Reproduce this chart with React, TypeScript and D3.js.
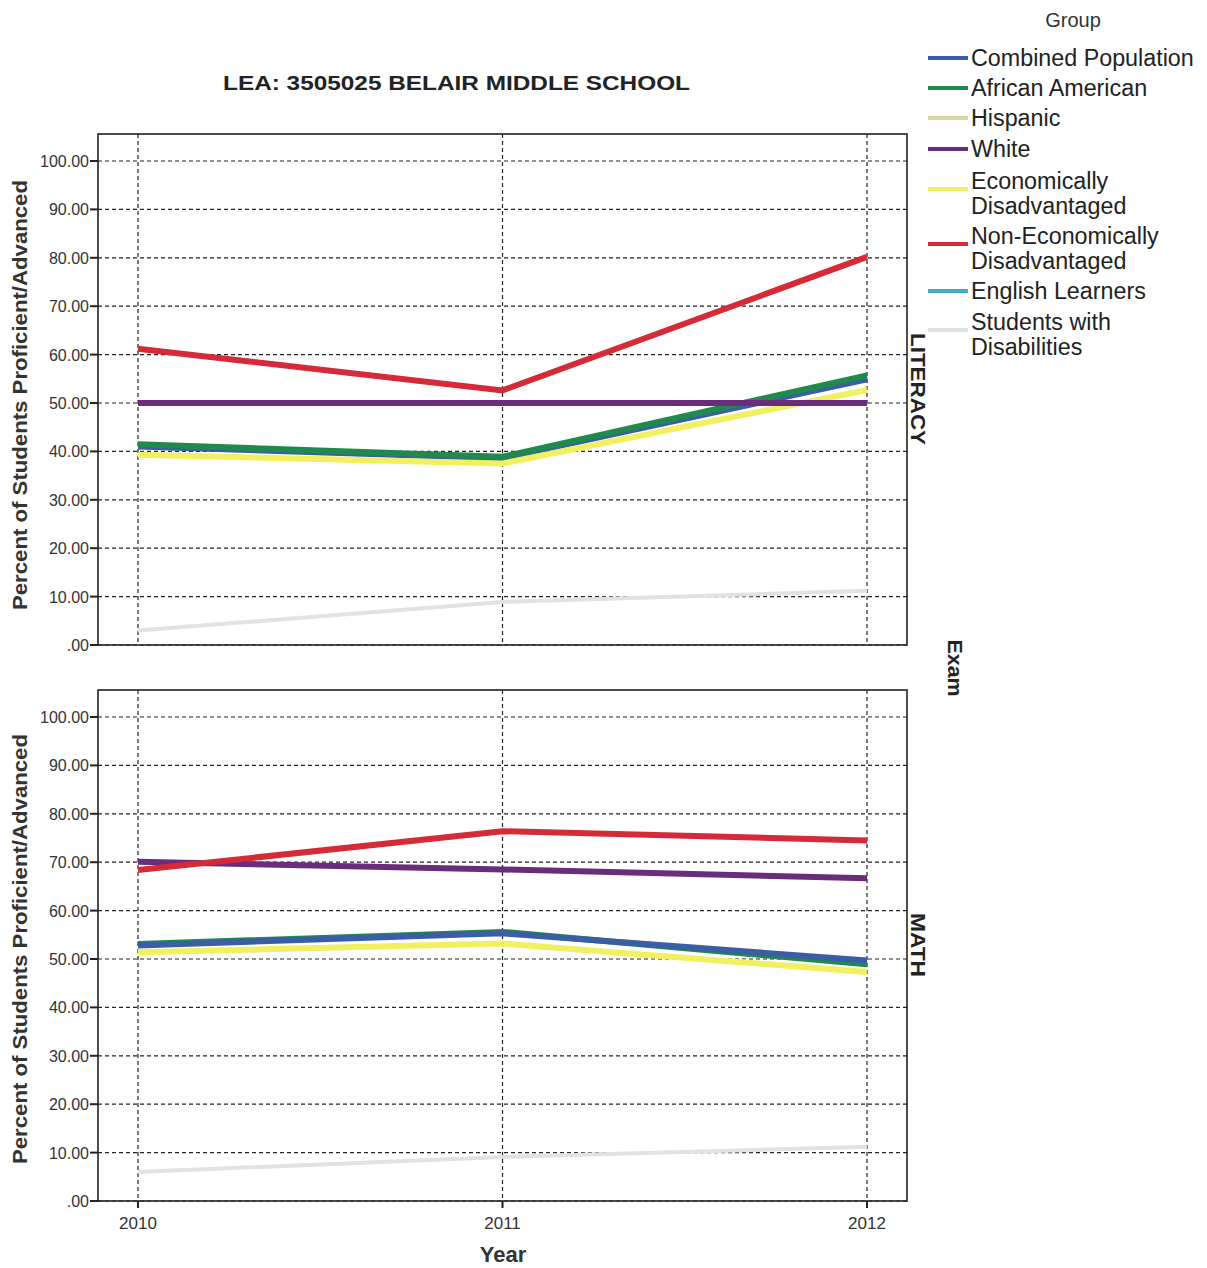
import React from "react";
import * as d3 from "d3";

const years = [2010, 2011, 2012];
const yTicks = [0, 10, 20, 30, 40, 50, 60, 70, 80, 90, 100];
const groups = [
  "Combined Population",
  "African American",
  "Hispanic",
  "White",
  "Economically Disadvantaged",
  "Non-Economically Disadvantaged",
  "English Learners",
  "Students with Disabilities",
];
const groupColors = ["#3a5da6", "#1f8a4c", "#d6d6a0", "#6a2d7c", "#f1f060", "#d52b38", "#46a9c9", "#dfe3e3"];
const legendLines = [
  ["Combined Population"],
  ["African American"],
  ["Hispanic"],
  ["White"],
  ["Economically", "Disadvantaged"],
  ["Non-Economically", "Disadvantaged"],
  ["English Learners"],
  ["Students with", "Disabilities"],
];

const literacyCombined = [41.0, 38.6, 54.9];
const literacyAfricanAmerican = [41.5, 38.9, 55.7];
const literacyWhite = [50.0, 50.0, 50.0];
const literacyEconDis = [39.3, 37.5, 52.7];
const literacyNonEconDis = [61.2, 52.6, 80.2];
const literacyDisabilities = [3.0, 8.9, 11.2];

const mathCombined = [52.8, 55.3, 49.7];
const mathAfricanAmerican = [53.1, 55.6, 48.9];
const mathWhite = [70.1, 68.5, 66.7];
const mathEconDis = [51.4, 53.2, 47.3];
const mathNonEconDis = [68.4, 76.4, 74.5];
const mathDisabilities = [6.0, 9.1, 11.2];

type Series = { group: string; values: number[] };

const panels: { name: string; series: Series[] }[] = [
  {
    name: "LITERACY",
    series: [
      { group: "Students with Disabilities", values: literacyDisabilities },
      { group: "Combined Population", values: literacyCombined },
      { group: "Economically Disadvantaged", values: literacyEconDis },
      { group: "African American", values: literacyAfricanAmerican },
      { group: "White", values: literacyWhite },
      { group: "Non-Economically Disadvantaged", values: literacyNonEconDis },
    ],
  },
  {
    name: "MATH",
    series: [
      { group: "Students with Disabilities", values: mathDisabilities },
      { group: "Economically Disadvantaged", values: mathEconDis },
      { group: "African American", values: mathAfricanAmerican },
      { group: "Combined Population", values: mathCombined },
      { group: "White", values: mathWhite },
      { group: "Non-Economically Disadvantaged", values: mathNonEconDis },
    ],
  },
];

const W = 1207;
const H = 1268;
const frameLeft = 98;
const frameRight = 907;
const panelFrames = [
  { top: 134, bottom: 645, y100: 161 },
  { top: 690, bottom: 1201, y100: 717 },
];

const x = d3.scaleLinear().domain([2010, 2012]).range([138, 867]);
const colorOf = d3.scaleOrdinal<string, string>().domain(groups).range(groupColors);
const sans = "'Liberation Sans', Arial, sans-serif";
const narrow = "'Liberation Sans Narrow', 'Liberation Sans', Arial, sans-serif";

export default function App() {
  return (
    <svg width={W} height={H} style={{ position: "absolute", left: 0, top: 0, background: "#fff" }}>
      <rect x={0} y={0} width={W} height={H} fill="#fff" />
      <text x={223} y={90} textLength={467} lengthAdjust="spacingAndGlyphs" fontFamily={sans} fontWeight="bold" fontSize={21} fill="#222">
        LEA: 3505025 BELAIR MIDDLE SCHOOL
      </text>
      {panels.map((p, pi) => {
        const f = panelFrames[pi];
        const y = d3.scaleLinear().domain([0, 100]).range([f.bottom, f.y100]);
        const line = d3
          .line<number>()
          .x((_, i) => x(years[i]))
          .y((v) => y(v));
        const midY = pi === 0 ? 395 : 949;
        return (
          <g key={p.name}>
            {yTicks.map((t) => (
              <g key={t}>
                <line x1={frameLeft} x2={frameRight} y1={y(t)} y2={y(t)} stroke="#222" strokeWidth={1.2} strokeDasharray="4,3" />
                <line x1={frameLeft - 8} x2={frameLeft} y1={y(t)} y2={y(t)} stroke="#222" strokeWidth={2} />
                <text x={frameLeft - 9} y={y(t) + 6} textAnchor="end" fontFamily={sans} fontSize={16} fill="#333">
                  {t === 0 ? ".00" : t.toFixed(2)}
                </text>
              </g>
            ))}
            {years.map((yr) => (
              <line key={yr} x1={x(yr)} x2={x(yr)} y1={f.top} y2={f.bottom} stroke="#222" strokeWidth={1.2} strokeDasharray="4,3" />
            ))}
            {p.series.map((s) => (
              <path
                key={s.group}
                d={line(s.values) || ""}
                fill="none"
                stroke={colorOf(s.group)}
                strokeWidth={s.group === "Students with Disabilities" ? 4 : 6}
                strokeLinejoin="miter"
              />
            ))}
            <rect x={frameLeft} y={f.top} width={frameRight - frameLeft} height={f.bottom - f.top} fill="none" stroke="#222" strokeWidth={1.6} />
            <text
              transform={`translate(27,${midY}) rotate(-90)`}
              textAnchor="middle"
              textLength={430}
              lengthAdjust="spacingAndGlyphs"
              fontFamily={sans}
              fontWeight="bold"
              fontSize={21}
              fill="#333"
            >
              Percent of Students Proficient/Advanced
            </text>
            <text
              transform={`translate(911,${pi === 0 ? 389 : 945}) rotate(90)`}
              textAnchor="middle"
              textLength={pi === 0 ? 112 : 64}
              lengthAdjust="spacingAndGlyphs"
              fontFamily={sans}
              fontWeight="bold"
              fontSize={21}
              fill="#222"
            >
              {p.name}
            </text>
          </g>
        );
      })}
      {years.map((yr) => (
        <g key={yr}>
          <line x1={x(yr)} x2={x(yr)} y1={1201} y2={1208} stroke="#222" strokeWidth={2} />
          <text x={x(yr)} y={1229} textAnchor="middle" fontFamily={narrow} fontSize={17} fill="#333">
            {yr}
          </text>
        </g>
      ))}
      <text x={503} y={1262} textAnchor="middle" fontFamily={narrow} fontWeight="bold" fontSize={22} fill="#333">
        Year
      </text>
      <text transform="translate(948,668) rotate(90)" textAnchor="middle" textLength={57} lengthAdjust="spacingAndGlyphs" fontFamily={sans} fontWeight="bold" fontSize={21} fill="#222">
        Exam
      </text>
      <text x={1073} y={27} textAnchor="middle" fontFamily={sans} fontSize={20} fill="#333">
        Group
      </text>
      {(() => {
        const rowY = [58, 88, 118, 149, 181, 236, 291, 322];
        return groups.map((g, i) => {
          const lines = legendLines[i];
          const swY = lines.length === 2 ? rowY[i] + 8 : rowY[i];
          return (
            <g key={g}>
              <line x1={928} x2={968} y1={swY} y2={swY} stroke={colorOf(g)} strokeWidth={4} />
              {lines.map((t, k) => (
                <text key={k} x={971} y={rowY[i] + 8 + k * 24.5} fontFamily={sans} fontSize={23.3} fill="#222">
                  {t}
                </text>
              ))}
            </g>
          );
        });
      })()}
    </svg>
  );
}
